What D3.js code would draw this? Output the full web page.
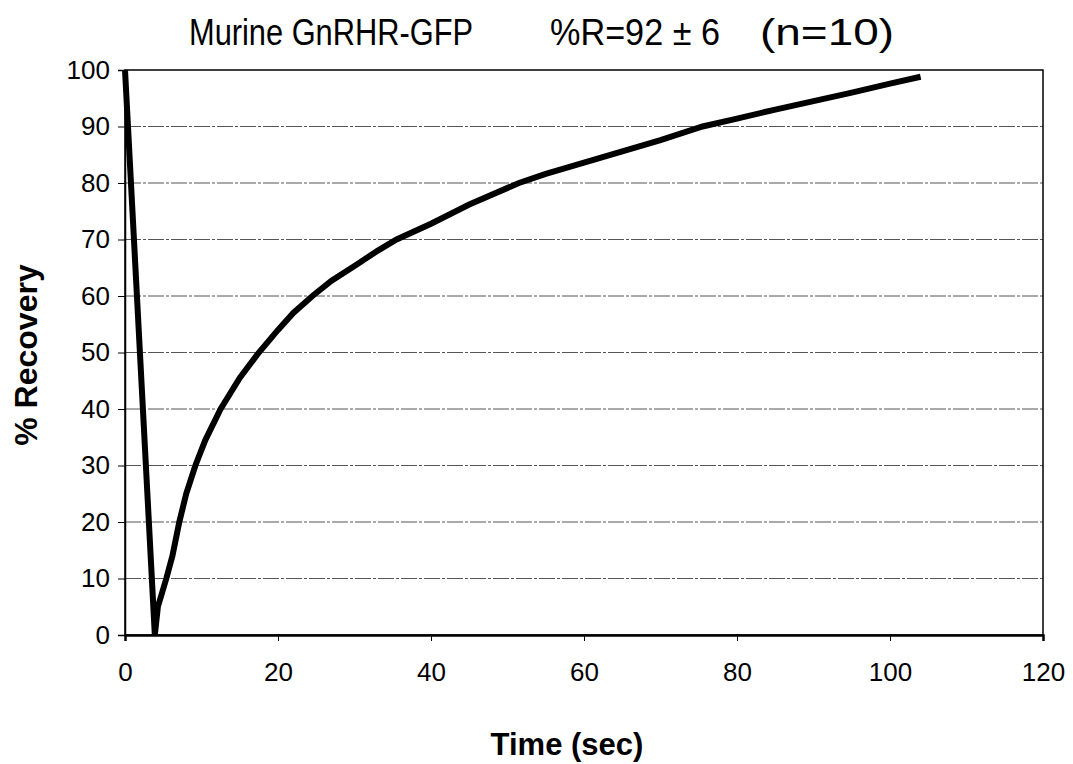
<!DOCTYPE html>
<html>
<head>
<meta charset="utf-8">
<script src="https://cdn.jsdelivr.net/npm/d3@7"></script>
<style>
  body { margin: 0; background: #fff; }
  text { font-family: Arial, "Liberation Sans", sans-serif; fill: #000; }
</style>
</head>
<body>
<div id="chart"></div>
<script>
// values
const timeSec = [0, 3.9, 4.3, 5.4, 6.2, 7.1, 8.0, 9.2, 10.5, 12.5, 15, 17.5, 20, 22, 24.5, 27, 30, 33, 35.5, 40, 45, 51.5, 55, 60, 65, 70, 75.5, 80, 85, 90, 95, 100, 104];
const recovery = [100, 0, 5, 10, 14, 20, 25, 30, 34.5, 40, 45.5, 50, 54, 57, 60, 62.7, 65.3, 68, 70, 72.8, 76.2, 80, 81.6, 83.6, 85.6, 87.6, 90, 91.4, 93, 94.5, 96, 97.6, 98.8];
const xTicks = [0, 20, 40, 60, 80, 100, 120];
const yTicks = [0, 10, 20, 30, 40, 50, 60, 70, 80, 90, 100];

const W = 1073, H = 764;
const margin = {top: 70, right: 30, bottom: 129, left: 125};
const width = W - margin.left - margin.right;
const height = H - margin.top - margin.bottom;

const svg = d3.select("#chart").append("svg")
    .attr("width", W)
    .attr("height", H);

const g = svg.append("g")
    .attr("transform", `translate(${margin.left},${margin.top})`);

const x = d3.scaleLinear().domain([0, 120]).range([0, width]);
const y = d3.scaleLinear().domain([0, 100]).range([height, 0]);

// gridlines
g.append("g")
    .selectAll("line")
    .data(yTicks.filter(d => d > 0 && d < 100))
    .enter().append("line")
    .attr("x1", 0).attr("x2", width)
    .attr("y1", d => y(d)).attr("y2", d => y(d))
    .attr("stroke", "#555")
    .attr("stroke-width", 1)
    .attr("stroke-dasharray", "16,2,3,2");

// frame
g.append("rect")
    .attr("width", width).attr("height", height)
    .attr("fill", "none").attr("stroke", "#000").attr("stroke-width", 1.5);

const yAxis = g.append("g")
    .call(d3.axisLeft(y).tickValues(yTicks).tickSize(7).tickPadding(8));
const xAxis = g.append("g")
    .attr("transform", `translate(0,${height})`)
    .call(d3.axisBottom(x).tickValues(xTicks).tickSize(6).tickPadding(22));

[yAxis, xAxis].forEach(a => {
  a.select(".domain").attr("stroke", "#000").attr("stroke-width", 1.5);
  a.selectAll(".tick line").attr("stroke", "#000");
  a.selectAll("text").style("font-size", "26px").attr("fill", "#000");
});
xAxis.select(".domain").attr("stroke-width", 2.5);

// curve
const pts = timeSec.map((t, i) => [t, recovery[i]]);
g.append("path")
    .datum(pts)
    .attr("fill", "none")
    .attr("stroke", "#000")
    .attr("stroke-width", 6)
    .attr("stroke-linejoin", "miter")
    .attr("d", d3.line().x(d => x(d[0])).y(d => y(d[1])));

// title in three pieces, placed like the original
const titleParts = [
  {t: "Murine GnRHR-GFP", x: 189, w: 284},
  {t: "%R=92 \u00b1 6", x: 550, w: 170},
  {t: "(n=10)", x: 760, w: 134}
];
svg.append("g").selectAll("text")
    .data(titleParts)
    .enter().append("text")
    .attr("x", d => d.x).attr("y", 45)
    .attr("textLength", d => d.w)
    .attr("lengthAdjust", "spacingAndGlyphs")
    .style("font-size", "36px")
    .text(d => d.t);

svg.append("text")
    .attr("x", 567).attr("y", 755)
    .attr("text-anchor", "middle")
    .style("font-size", "31px")
    .style("font-weight", "bold")
    .text("Time (sec)");

svg.append("text")
    .attr("transform", "translate(37,355) rotate(-90)")
    .attr("text-anchor", "middle")
    .style("font-size", "32px")
    .style("font-weight", "bold")
    .text("% Recovery");
</script>
</body>
</html>
